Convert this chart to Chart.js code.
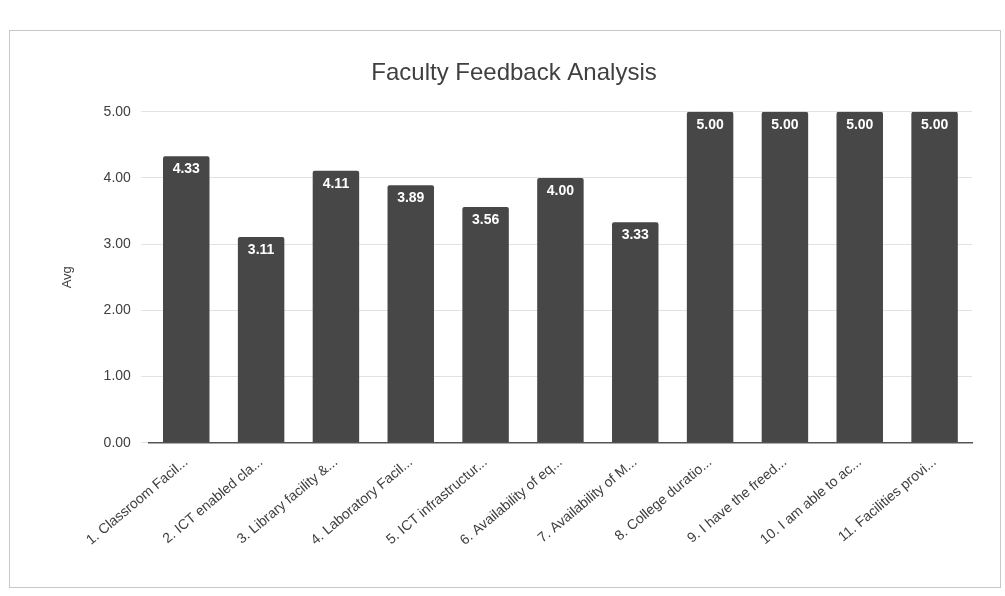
<!DOCTYPE html>
<html>
<head>
<meta charset="utf-8">
<script src="https://cdn.jsdelivr.net/npm/chart.js@4"></script>
<style>
  body { margin: 0; background: #fff; }
  #wrap {
    position: absolute; left: 9px; top: 30px; width: 990px; height: 556px;
    border: 1px solid #c8c8c8; background: #fff;
  }
</style>
</head>
<body>
<div id="wrap"><canvas id="feedbackChart"></canvas></div>
<script>
// chart data
const categories = [
  '1. Classroom Facil...', '2. ICT enabled cla...', '3. Library facility &...',
  '4. Laboratory Facil...', '5. ICT infrastructur...', '6. Availability of eq...',
  '7. Availability of M...', '8. College duratio...', '9. I have the freed...',
  '10. I am able to ac...', '11. Facilities provi...'
];
const avgValues = [4.33, 3.11, 4.11, 3.89, 3.56, 4.00, 3.33, 5.00, 5.00, 5.00, 5.00];
const yTicks = [0, 1, 2, 3, 4, 5];

// white value labels inside the top of each bar
const barLabels = {
  id: 'barLabels',
  afterDatasetsDraw(chart) {
    const ctx = chart.ctx;
    const meta = chart.getDatasetMeta(0);
    ctx.save();
    ctx.fillStyle = '#ffffff';
    ctx.font = 'bold 14px Arial, "Liberation Sans", sans-serif';
    ctx.textAlign = 'center';
    ctx.textBaseline = 'top';
    meta.data.forEach((bar, i) => {
      ctx.fillText(avgValues[i].toFixed(2), bar.x, bar.y + 6);
    });
    ctx.restore();
  }
};

const ctx = document.getElementById('feedbackChart').getContext('2d');
new Chart(ctx, {
  type: 'bar',
  data: {
    labels: categories,
    datasets: [{
      label: 'Avg',
      data: avgValues,
      backgroundColor: '#474747',
      borderRadius: 2,
      categoryPercentage: 0.9,
      barPercentage: 0.69
    }]
  },
  options: {
    responsive: true,
    maintainAspectRatio: false,
    animation: false,
    layout: { padding: { left: 46, right: 28, top: 10, bottom: 35 } },
    plugins: {
      legend: { display: false },
      tooltip: { enabled: false },
      title: {
        display: true,
        text: 'Faculty Feedback Analysis',
        color: '#404040',
        font: { family: 'Arial, "Liberation Sans", sans-serif', size: 24, weight: 'normal' },
        padding: { top: 18, bottom: 24 }
      }
    },
    scales: {
      x: {
        grid: { display: false },
        border: { color: '#555555', width: 1.5 },
        ticks: {
          color: '#404040',
          maxRotation: 40,
          minRotation: 40,
          font: { family: 'Arial, "Liberation Sans", sans-serif', size: 14 }
        }
      },
      y: {
        min: 0,
        max: 5,
        afterBuildTicks(axis) {
          axis.ticks = yTicks.map((v) => ({ value: v }));
        },
        grid: { color: '#e2e2e2' },
        border: { display: false },
        title: {
          display: true,
          text: 'Avg',
          color: '#404040',
          font: { family: 'Arial, "Liberation Sans", sans-serif', size: 13 },
          padding: { bottom: 18 }
        },
        ticks: {
          color: '#404040',
          padding: 10,
          font: { family: 'Arial, "Liberation Sans", sans-serif', size: 14 },
          callback: (v) => Number(v).toFixed(2)
        }
      }
    }
  },
  plugins: [barLabels]
});
</script>
</body>
</html>
